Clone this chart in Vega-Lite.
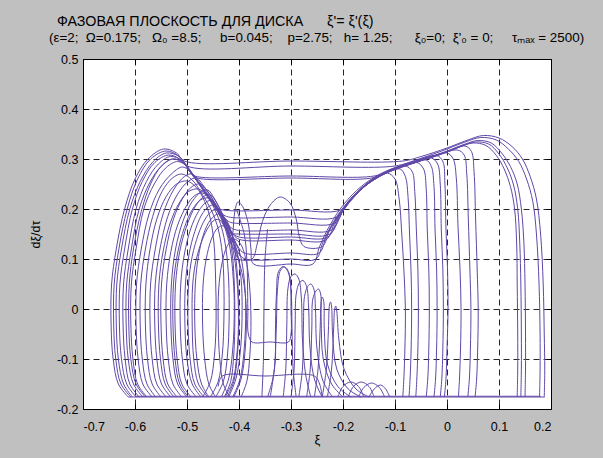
{
"$schema": "https://vega.github.io/schema/vega-lite/v6.json",
"width": 468, "height": 350,
"autosize": "none",
"padding": {"left": 83, "top": 59, "right": 52, "bottom": 49},
"background": "#c0c0c0",
"view": {"fill": "white", "stroke": "black", "strokeWidth": 1},
"title": {
 "text": "\u200b\u00a0\u00a0ФАЗОВАЯ ПЛОСКОСТЬ ДЛЯ ДИСКА\u00a0\u00a0\u00a0\u00a0\u00a0 ξ'= ξ'(ξ)",
 "subtitle": "(ε=2;\u00a0 Ω=0.175;\u00a0\u00a0 Ω₀ =8.5;\u00a0\u00a0\u00a0\u00a0 b=0.045;\u00a0\u00a0\u00a0 p=2.75;\u00a0\u00a0 h= 1.25;\u00a0\u00a0\u00a0\u00a0\u00a0 ξ₀=0;\u00a0 ξ'₀ = 0;\u00a0\u00a0\u00a0\u00a0 τₘₐₓ = 2500)",
 "anchor": "start", "frame": "group", "dx": -34, "dy": 20, "font": "Liberation Sans", "fontSize": 14.3, "fontWeight": "normal", "color": "#000000",
 "subtitleFont": "Liberation Sans", "subtitleFontSize": 13.4, "subtitleColor": "#000000", "subtitlePadding": 1,
 "baseline": "alphabetic", "offset": 18
},
"resolve": {"axis": {"x": "independent", "y": "independent"}},
"data": {"values": [
{"g":0,"x":-0.613,"y":-0.176},{"g":0,"x":0.188,"y":-0.176},
{"g":1,"x":-0.6,"y":-0.1745},{"g":1,"x":0.18,"y":-0.1745},
{"g":2,"x":-0.613,"y":-0.176},{"g":2,"x":-0.632,"y":-0.15},{"g":2,"x":-0.642,"y":-0.1},{"g":2,"x":-0.646,"y":-0.03},{"g":2,"x":-0.645,"y":0.05},{"g":2,"x":-0.636,"y":0.12},{"g":2,"x":-0.62,"y":0.2},{"g":2,"x":-0.6,"y":0.26},{"g":2,"x":-0.575,"y":0.3},{"g":2,"x":-0.545,"y":0.32},{"g":2,"x":-0.52,"y":0.312},{"g":2,"x":-0.505,"y":0.296},{"g":2,"x":-0.3,"y":0.296},{"g":2,"x":-0.085,"y":0.296},{"g":2,"x":-0.05,"y":0.305},{"g":2,"x":0.0,"y":0.322},{"g":2,"x":0.04,"y":0.338},{"g":2,"x":0.07,"y":0.347},{"g":2,"x":0.1,"y":0.342},{"g":2,"x":0.125,"y":0.325},{"g":2,"x":0.145,"y":0.3},{"g":2,"x":0.16,"y":0.265},{"g":2,"x":0.172,"y":0.22},{"g":2,"x":0.18,"y":0.15},{"g":2,"x":0.185,"y":0.05},{"g":2,"x":0.187,"y":-0.05},{"g":2,"x":0.188,"y":-0.12},{"g":2,"x":0.187,"y":-0.176},
{"g":3,"x":-0.605,"y":-0.176},{"g":3,"x":-0.622,"y":-0.15},{"g":3,"x":-0.632,"y":-0.1},{"g":3,"x":-0.636,"y":-0.03},{"g":3,"x":-0.635,"y":0.05},{"g":3,"x":-0.626,"y":0.12},{"g":3,"x":-0.61,"y":0.2},{"g":3,"x":-0.59,"y":0.255},{"g":3,"x":-0.565,"y":0.295},{"g":3,"x":-0.54,"y":0.312},{"g":3,"x":-0.515,"y":0.305},{"g":3,"x":-0.5,"y":0.286},{"g":3,"x":-0.3,"y":0.286},{"g":3,"x":-0.1,"y":0.286},{"g":3,"x":-0.06,"y":0.298},{"g":3,"x":-0.01,"y":0.316},{"g":3,"x":0.035,"y":0.334},{"g":3,"x":0.065,"y":0.343},{"g":3,"x":0.095,"y":0.338},{"g":3,"x":0.118,"y":0.32},{"g":3,"x":0.138,"y":0.295},{"g":3,"x":0.153,"y":0.26},{"g":3,"x":0.165,"y":0.215},{"g":3,"x":0.172,"y":0.15},{"g":3,"x":0.177,"y":0.05},{"g":3,"x":0.179,"y":-0.05},{"g":3,"x":0.179,"y":-0.12},{"g":3,"x":0.178,"y":-0.176},
{"g":4,"x":-0.592,"y":-0.176},{"g":4,"x":-0.61,"y":-0.15},{"g":4,"x":-0.619,"y":-0.1},{"g":4,"x":-0.623,"y":-0.03},{"g":4,"x":-0.622,"y":0.05},{"g":4,"x":-0.613,"y":0.12},{"g":4,"x":-0.598,"y":0.2},{"g":4,"x":-0.578,"y":0.255},{"g":4,"x":-0.555,"y":0.29},{"g":4,"x":-0.532,"y":0.305},{"g":4,"x":-0.51,"y":0.297},{"g":4,"x":-0.495,"y":0.275},{"g":4,"x":-0.485,"y":0.266},{"g":4,"x":-0.3,"y":0.266},{"g":4,"x":-0.14,"y":0.266},{"g":4,"x":-0.1,"y":0.28},{"g":4,"x":-0.05,"y":0.298},{"g":4,"x":0.0,"y":0.316},{"g":4,"x":0.035,"y":0.33},{"g":4,"x":0.06,"y":0.337},{"g":4,"x":0.085,"y":0.332},{"g":4,"x":0.105,"y":0.312},{"g":4,"x":0.122,"y":0.285},{"g":4,"x":0.135,"y":0.25},{"g":4,"x":0.143,"y":0.2},{"g":4,"x":0.148,"y":0.13},{"g":4,"x":0.15,"y":0.05},{"g":4,"x":0.151,"y":-0.05},{"g":4,"x":0.151,"y":-0.12},{"g":4,"x":0.15,"y":-0.176},
{"g":5,"x":-0.585,"y":-0.176},{"g":5,"x":-0.603,"y":-0.15},{"g":5,"x":-0.613,"y":-0.1},{"g":5,"x":-0.617,"y":-0.03},{"g":5,"x":-0.616,"y":0.05},{"g":5,"x":-0.607,"y":0.12},{"g":5,"x":-0.592,"y":0.2},{"g":5,"x":-0.572,"y":0.252},{"g":5,"x":-0.55,"y":0.285},{"g":5,"x":-0.527,"y":0.3},{"g":5,"x":-0.505,"y":0.292},{"g":5,"x":-0.49,"y":0.27},{"g":5,"x":-0.48,"y":0.262},{"g":5,"x":-0.3,"y":0.262},{"g":5,"x":-0.145,"y":0.262},{"g":5,"x":-0.105,"y":0.277},{"g":5,"x":-0.055,"y":0.295},{"g":5,"x":-0.005,"y":0.313},{"g":5,"x":0.03,"y":0.327},{"g":5,"x":0.055,"y":0.334},{"g":5,"x":0.08,"y":0.33},{"g":5,"x":0.1,"y":0.31},{"g":5,"x":0.116,"y":0.282},{"g":5,"x":0.128,"y":0.248},{"g":5,"x":0.136,"y":0.2},{"g":5,"x":0.14,"y":0.13},{"g":5,"x":0.142,"y":0.05},{"g":5,"x":0.143,"y":-0.05},{"g":5,"x":0.143,"y":-0.12},{"g":5,"x":0.142,"y":-0.176},
{"g":6,"x":-0.577,"y":-0.176},{"g":6,"x":-0.595,"y":-0.15},{"g":6,"x":-0.604,"y":-0.1},{"g":6,"x":-0.608,"y":-0.03},{"g":6,"x":-0.607,"y":0.05},{"g":6,"x":-0.598,"y":0.12},{"g":6,"x":-0.583,"y":0.2},{"g":6,"x":-0.563,"y":0.25},{"g":6,"x":-0.54,"y":0.283},{"g":6,"x":-0.518,"y":0.295},{"g":6,"x":-0.5,"y":0.285},{"g":6,"x":-0.48,"y":0.255},{"g":6,"x":-0.462,"y":0.226},{"g":6,"x":-0.445,"y":0.204},{"g":6,"x":-0.43,"y":0.198},{"g":6,"x":-0.3,"y":0.198},{"g":6,"x":-0.205,"y":0.198},{"g":6,"x":-0.18,"y":0.225},{"g":6,"x":-0.15,"y":0.252},{"g":6,"x":-0.11,"y":0.275},{"g":6,"x":-0.06,"y":0.293},{"g":6,"x":-0.01,"y":0.31},{"g":6,"x":0.025,"y":0.324},{"g":6,"x":0.05,"y":0.332},{"g":6,"x":0.075,"y":0.327},{"g":6,"x":0.095,"y":0.307},{"g":6,"x":0.11,"y":0.28},{"g":6,"x":0.122,"y":0.245},{"g":6,"x":0.13,"y":0.2},{"g":6,"x":0.134,"y":0.13},{"g":6,"x":0.135,"y":0.05},{"g":6,"x":0.136,"y":-0.05},{"g":6,"x":0.136,"y":-0.12},{"g":6,"x":0.135,"y":-0.176},
{"g":7,"x":-0.567,"y":-0.176},{"g":7,"x":-0.585,"y":-0.15},{"g":7,"x":-0.594,"y":-0.1},{"g":7,"x":-0.598,"y":-0.03},{"g":7,"x":-0.597,"y":0.05},{"g":7,"x":-0.588,"y":0.12},{"g":7,"x":-0.573,"y":0.19},{"g":7,"x":-0.553,"y":0.24},{"g":7,"x":-0.528,"y":0.272},{"g":7,"x":-0.508,"y":0.284},{"g":7,"x":-0.49,"y":0.27},{"g":7,"x":-0.47,"y":0.24},{"g":7,"x":-0.45,"y":0.21},{"g":7,"x":-0.432,"y":0.19},{"g":7,"x":-0.42,"y":0.184},{"g":7,"x":-0.3,"y":0.184},{"g":7,"x":-0.212,"y":0.184},{"g":7,"x":-0.19,"y":0.215},{"g":7,"x":-0.165,"y":0.24},{"g":7,"x":-0.135,"y":0.262},{"g":7,"x":-0.115,"y":0.272},{"g":7,"x":-0.1,"y":0.26},{"g":7,"x":-0.092,"y":0.22},{"g":7,"x":-0.087,"y":0.15},{"g":7,"x":-0.083,"y":0.08},{"g":7,"x":-0.08,"y":0.0},{"g":7,"x":-0.081,"y":-0.08},{"g":7,"x":-0.083,"y":-0.14},{"g":7,"x":-0.085,"y":-0.176},
{"g":8,"x":-0.54,"y":-0.176},{"g":8,"x":-0.558,"y":-0.15},{"g":8,"x":-0.567,"y":-0.1},{"g":8,"x":-0.571,"y":-0.03},{"g":8,"x":-0.57,"y":0.05},{"g":8,"x":-0.561,"y":0.12},{"g":8,"x":-0.546,"y":0.19},{"g":8,"x":-0.526,"y":0.238},{"g":8,"x":-0.505,"y":0.265},{"g":8,"x":-0.49,"y":0.27},{"g":8,"x":-0.475,"y":0.252},{"g":8,"x":-0.455,"y":0.222},{"g":8,"x":-0.438,"y":0.195},{"g":8,"x":-0.42,"y":0.175},{"g":8,"x":-0.41,"y":0.172},{"g":8,"x":-0.3,"y":0.172},{"g":8,"x":-0.216,"y":0.172},{"g":8,"x":-0.195,"y":0.207},{"g":8,"x":-0.17,"y":0.236},{"g":8,"x":-0.14,"y":0.26},{"g":8,"x":-0.11,"y":0.275},{"g":8,"x":-0.09,"y":0.28},{"g":8,"x":-0.08,"y":0.265},{"g":8,"x":-0.075,"y":0.225},{"g":8,"x":-0.072,"y":0.15},{"g":8,"x":-0.069,"y":0.07},{"g":8,"x":-0.068,"y":0.0},{"g":8,"x":-0.069,"y":-0.08},{"g":8,"x":-0.071,"y":-0.14},{"g":8,"x":-0.073,"y":-0.176},
{"g":9,"x":-0.531,"y":-0.176},{"g":9,"x":-0.549,"y":-0.15},{"g":9,"x":-0.558,"y":-0.1},{"g":9,"x":-0.562,"y":-0.03},{"g":9,"x":-0.561,"y":0.05},{"g":9,"x":-0.552,"y":0.12},{"g":9,"x":-0.537,"y":0.185},{"g":9,"x":-0.518,"y":0.23},{"g":9,"x":-0.498,"y":0.255},{"g":9,"x":-0.482,"y":0.262},{"g":9,"x":-0.468,"y":0.246},{"g":9,"x":-0.45,"y":0.218},{"g":9,"x":-0.432,"y":0.188},{"g":9,"x":-0.418,"y":0.165},{"g":9,"x":-0.405,"y":0.158},{"g":9,"x":-0.3,"y":0.158},{"g":9,"x":-0.222,"y":0.158},{"g":9,"x":-0.2,"y":0.196},{"g":9,"x":-0.175,"y":0.228},{"g":9,"x":-0.145,"y":0.256},{"g":9,"x":-0.11,"y":0.276},{"g":9,"x":-0.08,"y":0.286},{"g":9,"x":-0.067,"y":0.275},{"g":9,"x":-0.062,"y":0.235},{"g":9,"x":-0.059,"y":0.16},{"g":9,"x":-0.056,"y":0.08},{"g":9,"x":-0.055,"y":0.0},{"g":9,"x":-0.056,"y":-0.08},{"g":9,"x":-0.058,"y":-0.14},{"g":9,"x":-0.06,"y":-0.176},
{"g":10,"x":-0.519,"y":-0.176},{"g":10,"x":-0.537,"y":-0.15},{"g":10,"x":-0.546,"y":-0.1},{"g":10,"x":-0.55,"y":-0.03},{"g":10,"x":-0.549,"y":0.05},{"g":10,"x":-0.54,"y":0.12},{"g":10,"x":-0.526,"y":0.18},{"g":10,"x":-0.508,"y":0.222},{"g":10,"x":-0.49,"y":0.245},{"g":10,"x":-0.475,"y":0.25},{"g":10,"x":-0.46,"y":0.235},{"g":10,"x":-0.443,"y":0.205},{"g":10,"x":-0.427,"y":0.175},{"g":10,"x":-0.413,"y":0.152},{"g":10,"x":-0.4,"y":0.144},{"g":10,"x":-0.3,"y":0.144},{"g":10,"x":-0.229,"y":0.144},{"g":10,"x":-0.21,"y":0.182},{"g":10,"x":-0.185,"y":0.218},{"g":10,"x":-0.155,"y":0.25},{"g":10,"x":-0.12,"y":0.272},{"g":10,"x":-0.085,"y":0.286},{"g":10,"x":-0.058,"y":0.293},{"g":10,"x":-0.045,"y":0.28},{"g":10,"x":-0.04,"y":0.24},{"g":10,"x":-0.038,"y":0.16},{"g":10,"x":-0.035,"y":0.08},{"g":10,"x":-0.034,"y":0.0},{"g":10,"x":-0.035,"y":-0.08},{"g":10,"x":-0.037,"y":-0.14},{"g":10,"x":-0.04,"y":-0.176},
{"g":11,"x":-0.5,"y":-0.176},{"g":11,"x":-0.518,"y":-0.15},{"g":11,"x":-0.527,"y":-0.1},{"g":11,"x":-0.531,"y":-0.03},{"g":11,"x":-0.53,"y":0.05},{"g":11,"x":-0.522,"y":0.12},{"g":11,"x":-0.508,"y":0.175},{"g":11,"x":-0.49,"y":0.215},{"g":11,"x":-0.472,"y":0.235},{"g":11,"x":-0.46,"y":0.238},{"g":11,"x":-0.448,"y":0.222},{"g":11,"x":-0.434,"y":0.195},{"g":11,"x":-0.42,"y":0.165},{"g":11,"x":-0.408,"y":0.145},{"g":11,"x":-0.395,"y":0.138},{"g":11,"x":-0.3,"y":0.138},{"g":11,"x":-0.233,"y":0.138},{"g":11,"x":-0.215,"y":0.175},{"g":11,"x":-0.19,"y":0.212},{"g":11,"x":-0.16,"y":0.246},{"g":11,"x":-0.125,"y":0.27},{"g":11,"x":-0.09,"y":0.284},{"g":11,"x":-0.06,"y":0.293},{"g":11,"x":-0.04,"y":0.298},{"g":11,"x":-0.03,"y":0.285},{"g":11,"x":-0.025,"y":0.245},{"g":11,"x":-0.023,"y":0.16},{"g":11,"x":-0.02,"y":0.08},{"g":11,"x":-0.019,"y":0.0},{"g":11,"x":-0.02,"y":-0.08},{"g":11,"x":-0.022,"y":-0.14},{"g":11,"x":-0.025,"y":-0.176},
{"g":12,"x":-0.492,"y":-0.176},{"g":12,"x":-0.51,"y":-0.15},{"g":12,"x":-0.519,"y":-0.1},{"g":12,"x":-0.523,"y":-0.03},{"g":12,"x":-0.522,"y":0.05},{"g":12,"x":-0.514,"y":0.115},{"g":12,"x":-0.5,"y":0.168},{"g":12,"x":-0.484,"y":0.205},{"g":12,"x":-0.468,"y":0.225},{"g":12,"x":-0.455,"y":0.228},{"g":12,"x":-0.443,"y":0.212},{"g":12,"x":-0.43,"y":0.185},{"g":12,"x":-0.415,"y":0.152},{"g":12,"x":-0.402,"y":0.125},{"g":12,"x":-0.39,"y":0.112},{"g":12,"x":-0.3,"y":0.112},{"g":12,"x":-0.246,"y":0.112},{"g":12,"x":-0.232,"y":0.145},{"g":12,"x":-0.21,"y":0.185},{"g":12,"x":-0.18,"y":0.225},{"g":12,"x":-0.145,"y":0.258},{"g":12,"x":-0.11,"y":0.278},{"g":12,"x":-0.07,"y":0.292},{"g":12,"x":-0.03,"y":0.302},{"g":12,"x":-0.018,"y":0.29},{"g":12,"x":-0.013,"y":0.25},{"g":12,"x":-0.011,"y":0.16},{"g":12,"x":-0.008,"y":0.08},{"g":12,"x":-0.007,"y":0.0},{"g":12,"x":-0.008,"y":-0.08},{"g":12,"x":-0.01,"y":-0.14},{"g":12,"x":-0.013,"y":-0.176},
{"g":13,"x":-0.482,"y":-0.176},{"g":13,"x":-0.5,"y":-0.15},{"g":13,"x":-0.509,"y":-0.1},{"g":13,"x":-0.513,"y":-0.03},{"g":13,"x":-0.512,"y":0.05},{"g":13,"x":-0.505,"y":0.11},{"g":13,"x":-0.493,"y":0.16},{"g":13,"x":-0.478,"y":0.195},{"g":13,"x":-0.463,"y":0.214},{"g":13,"x":-0.452,"y":0.217},{"g":13,"x":-0.44,"y":0.2},{"g":13,"x":-0.427,"y":0.172},{"g":13,"x":-0.413,"y":0.138},{"g":13,"x":-0.4,"y":0.11},{"g":13,"x":-0.388,"y":0.1},{"g":13,"x":-0.3,"y":0.1},{"g":13,"x":-0.252,"y":0.1},{"g":13,"x":-0.238,"y":0.135},{"g":13,"x":-0.218,"y":0.175},{"g":13,"x":-0.19,"y":0.215},{"g":13,"x":-0.155,"y":0.25},{"g":13,"x":-0.115,"y":0.275},{"g":13,"x":-0.07,"y":0.292},{"g":13,"x":-0.02,"y":0.307},{"g":13,"x":-0.008,"y":0.295},{"g":13,"x":-0.004,"y":0.25},{"g":13,"x":-0.002,"y":0.16},{"g":13,"x":0.001,"y":0.08},{"g":13,"x":0.002,"y":0.0},{"g":13,"x":0.0,"y":-0.08},{"g":13,"x":-0.002,"y":-0.14},{"g":13,"x":-0.005,"y":-0.176},
{"g":14,"x":-0.473,"y":-0.176},{"g":14,"x":-0.49,"y":-0.15},{"g":14,"x":-0.5,"y":-0.1},{"g":14,"x":-0.504,"y":-0.03},{"g":14,"x":-0.503,"y":0.05},{"g":14,"x":-0.496,"y":0.11},{"g":14,"x":-0.485,"y":0.155},{"g":14,"x":-0.472,"y":0.188},{"g":14,"x":-0.458,"y":0.205},{"g":14,"x":-0.448,"y":0.207},{"g":14,"x":-0.437,"y":0.19},{"g":14,"x":-0.425,"y":0.16},{"g":14,"x":-0.415,"y":0.13},{"g":14,"x":-0.412,"y":0.15},{"g":14,"x":-0.408,"y":0.195},{"g":14,"x":-0.402,"y":0.214},{"g":14,"x":-0.393,"y":0.205},{"g":14,"x":-0.382,"y":0.17},{"g":14,"x":-0.377,"y":0.12},{"g":14,"x":-0.372,"y":0.09},{"g":14,"x":-0.3,"y":0.09},{"g":14,"x":-0.258,"y":0.09},{"g":14,"x":-0.245,"y":0.125},{"g":14,"x":-0.225,"y":0.168},{"g":14,"x":-0.198,"y":0.21},{"g":14,"x":-0.165,"y":0.245},{"g":14,"x":-0.125,"y":0.272},{"g":14,"x":-0.08,"y":0.29},{"g":14,"x":-0.03,"y":0.305},{"g":14,"x":0.0,"y":0.312},{"g":14,"x":0.012,"y":0.3},{"g":14,"x":0.018,"y":0.26},{"g":14,"x":0.021,"y":0.17},{"g":14,"x":0.025,"y":0.08},{"g":14,"x":0.027,"y":0.0},{"g":14,"x":0.026,"y":-0.08},{"g":14,"x":0.024,"y":-0.14},{"g":14,"x":0.022,"y":-0.176},
{"g":15,"x":-0.467,"y":-0.176},{"g":15,"x":-0.485,"y":-0.15},{"g":15,"x":-0.494,"y":-0.1},{"g":15,"x":-0.498,"y":-0.03},{"g":15,"x":-0.497,"y":0.05},{"g":15,"x":-0.49,"y":0.105},{"g":15,"x":-0.478,"y":0.15},{"g":15,"x":-0.465,"y":0.18},{"g":15,"x":-0.452,"y":0.196},{"g":15,"x":-0.442,"y":0.198},{"g":15,"x":-0.432,"y":0.18},{"g":15,"x":-0.42,"y":0.15},{"g":15,"x":-0.41,"y":0.12},{"g":15,"x":-0.4,"y":0.1},{"g":15,"x":-0.375,"y":0.1},{"g":15,"x":-0.365,"y":0.13},{"g":15,"x":-0.355,"y":0.175},{"g":15,"x":-0.34,"y":0.208},{"g":15,"x":-0.321,"y":0.224},{"g":15,"x":-0.302,"y":0.212},{"g":15,"x":-0.29,"y":0.18},{"g":15,"x":-0.284,"y":0.145},{"g":15,"x":-0.275,"y":0.125},{"g":15,"x":-0.24,"y":0.125},{"g":15,"x":-0.225,"y":0.16},{"g":15,"x":-0.2,"y":0.2},{"g":15,"x":-0.17,"y":0.235},{"g":15,"x":-0.13,"y":0.265},{"g":15,"x":-0.08,"y":0.288},{"g":15,"x":-0.03,"y":0.303},{"g":15,"x":0.02,"y":0.318},{"g":15,"x":0.033,"y":0.308},{"g":15,"x":0.038,"y":0.27},{"g":15,"x":0.041,"y":0.18},{"g":15,"x":0.044,"y":0.08},{"g":15,"x":0.046,"y":0.0},{"g":15,"x":0.045,"y":-0.08},{"g":15,"x":0.043,"y":-0.14},{"g":15,"x":0.04,"y":-0.176},
{"g":16,"x":-0.46,"y":-0.176},{"g":16,"x":-0.478,"y":-0.15},{"g":16,"x":-0.487,"y":-0.1},{"g":16,"x":-0.49,"y":-0.03},{"g":16,"x":-0.489,"y":0.05},{"g":16,"x":-0.482,"y":0.1},{"g":16,"x":-0.47,"y":0.14},{"g":16,"x":-0.458,"y":0.165},{"g":16,"x":-0.447,"y":0.178},{"g":16,"x":-0.437,"y":0.178},{"g":16,"x":-0.428,"y":0.165},{"g":16,"x":-0.418,"y":0.152},{"g":16,"x":-0.4,"y":0.15},{"g":16,"x":-0.3,"y":0.15},{"g":16,"x":-0.225,"y":0.15},{"g":16,"x":-0.205,"y":0.19},{"g":16,"x":-0.18,"y":0.225},{"g":16,"x":-0.145,"y":0.257},{"g":16,"x":-0.1,"y":0.282},{"g":16,"x":-0.05,"y":0.298},{"g":16,"x":0.0,"y":0.314},{"g":16,"x":0.035,"y":0.326},{"g":16,"x":0.047,"y":0.315},{"g":16,"x":0.052,"y":0.275},{"g":16,"x":0.055,"y":0.18},{"g":16,"x":0.058,"y":0.08},{"g":16,"x":0.06,"y":0.0},{"g":16,"x":0.059,"y":-0.08},{"g":16,"x":0.057,"y":-0.14},{"g":16,"x":0.054,"y":-0.176},
{"g":17,"x":-0.608,"y":-0.176},{"g":17,"x":-0.627,"y":-0.15},{"g":17,"x":-0.637,"y":-0.1},{"g":17,"x":-0.641,"y":-0.03},{"g":17,"x":-0.64,"y":0.05},{"g":17,"x":-0.631,"y":0.12},{"g":17,"x":-0.615,"y":0.2},{"g":17,"x":-0.595,"y":0.26},{"g":17,"x":-0.57,"y":0.3},{"g":17,"x":-0.54,"y":0.316},{"g":17,"x":-0.515,"y":0.305},{"g":17,"x":-0.49,"y":0.27},{"g":17,"x":-0.465,"y":0.235},{"g":17,"x":-0.44,"y":0.2},{"g":17,"x":-0.42,"y":0.165},{"g":17,"x":-0.405,"y":0.12},{"g":17,"x":-0.396,"y":0.06},{"g":17,"x":-0.394,"y":0.0},{"g":17,"x":-0.397,"y":-0.08},{"g":17,"x":-0.406,"y":-0.14},{"g":17,"x":-0.42,"y":-0.176},
{"g":18,"x":-0.598,"y":-0.176},{"g":18,"x":-0.616,"y":-0.15},{"g":18,"x":-0.626,"y":-0.1},{"g":18,"x":-0.63,"y":-0.03},{"g":18,"x":-0.629,"y":0.05},{"g":18,"x":-0.62,"y":0.12},{"g":18,"x":-0.605,"y":0.2},{"g":18,"x":-0.586,"y":0.255},{"g":18,"x":-0.562,"y":0.293},{"g":18,"x":-0.535,"y":0.308},{"g":18,"x":-0.512,"y":0.298},{"g":18,"x":-0.49,"y":0.268},{"g":18,"x":-0.466,"y":0.235},{"g":18,"x":-0.444,"y":0.2},{"g":18,"x":-0.428,"y":0.165},{"g":18,"x":-0.417,"y":0.12},{"g":18,"x":-0.411,"y":0.06},{"g":18,"x":-0.409,"y":0.0},{"g":18,"x":-0.412,"y":-0.08},{"g":18,"x":-0.42,"y":-0.14},{"g":18,"x":-0.434,"y":-0.176},
{"g":19,"x":-0.58,"y":-0.176},{"g":19,"x":-0.598,"y":-0.15},{"g":19,"x":-0.608,"y":-0.1},{"g":19,"x":-0.612,"y":-0.03},{"g":19,"x":-0.611,"y":0.05},{"g":19,"x":-0.603,"y":0.12},{"g":19,"x":-0.588,"y":0.195},{"g":19,"x":-0.57,"y":0.25},{"g":19,"x":-0.55,"y":0.285},{"g":19,"x":-0.528,"y":0.3},{"g":19,"x":-0.505,"y":0.29},{"g":19,"x":-0.482,"y":0.258},{"g":19,"x":-0.458,"y":0.222},{"g":19,"x":-0.435,"y":0.185},{"g":19,"x":-0.415,"y":0.15},{"g":19,"x":-0.398,"y":0.11},{"g":19,"x":-0.39,"y":0.06},{"g":19,"x":-0.387,"y":0.0},{"g":19,"x":-0.39,"y":-0.08},{"g":19,"x":-0.398,"y":-0.14},{"g":19,"x":-0.412,"y":-0.176},
{"g":20,"x":-0.56,"y":-0.176},{"g":20,"x":-0.577,"y":-0.15},{"g":20,"x":-0.586,"y":-0.1},{"g":20,"x":-0.59,"y":-0.03},{"g":20,"x":-0.589,"y":0.05},{"g":20,"x":-0.58,"y":0.12},{"g":20,"x":-0.566,"y":0.185},{"g":20,"x":-0.548,"y":0.235},{"g":20,"x":-0.528,"y":0.262},{"g":20,"x":-0.51,"y":0.27},{"g":20,"x":-0.49,"y":0.258},{"g":20,"x":-0.47,"y":0.228},{"g":20,"x":-0.452,"y":0.195},{"g":20,"x":-0.44,"y":0.16},{"g":20,"x":-0.432,"y":0.11},{"g":20,"x":-0.429,"y":0.05},{"g":20,"x":-0.429,"y":-0.02},{"g":20,"x":-0.432,"y":-0.09},{"g":20,"x":-0.44,"y":-0.145},{"g":20,"x":-0.455,"y":-0.176},
{"g":21,"x":-0.55,"y":-0.176},{"g":21,"x":-0.567,"y":-0.15},{"g":21,"x":-0.576,"y":-0.1},{"g":21,"x":-0.58,"y":-0.03},{"g":21,"x":-0.579,"y":0.05},{"g":21,"x":-0.571,"y":0.12},{"g":21,"x":-0.558,"y":0.18},{"g":21,"x":-0.54,"y":0.225},{"g":21,"x":-0.52,"y":0.25},{"g":21,"x":-0.5,"y":0.256},{"g":21,"x":-0.482,"y":0.243},{"g":21,"x":-0.466,"y":0.215},{"g":21,"x":-0.455,"y":0.18},{"g":21,"x":-0.448,"y":0.13},{"g":21,"x":-0.445,"y":0.06},{"g":21,"x":-0.444,"y":-0.02},{"g":21,"x":-0.447,"y":-0.09},{"g":21,"x":-0.455,"y":-0.145},{"g":21,"x":-0.47,"y":-0.176},
{"g":22,"x":-0.525,"y":-0.176},{"g":22,"x":-0.542,"y":-0.15},{"g":22,"x":-0.551,"y":-0.1},{"g":22,"x":-0.555,"y":-0.03},{"g":22,"x":-0.554,"y":0.05},{"g":22,"x":-0.546,"y":0.115},{"g":22,"x":-0.533,"y":0.17},{"g":22,"x":-0.515,"y":0.212},{"g":22,"x":-0.497,"y":0.235},{"g":22,"x":-0.478,"y":0.24},{"g":22,"x":-0.462,"y":0.227},{"g":22,"x":-0.447,"y":0.2},{"g":22,"x":-0.434,"y":0.165},{"g":22,"x":-0.425,"y":0.12},{"g":22,"x":-0.42,"y":0.06},{"g":22,"x":-0.419,"y":-0.02},{"g":22,"x":-0.422,"y":-0.09},{"g":22,"x":-0.43,"y":-0.145},{"g":22,"x":-0.445,"y":-0.176},
{"g":23,"x":-0.51,"y":-0.176},{"g":23,"x":-0.527,"y":-0.15},{"g":23,"x":-0.536,"y":-0.1},{"g":23,"x":-0.54,"y":-0.03},{"g":23,"x":-0.539,"y":0.05},{"g":23,"x":-0.531,"y":0.115},{"g":23,"x":-0.518,"y":0.168},{"g":23,"x":-0.5,"y":0.208},{"g":23,"x":-0.485,"y":0.227},{"g":23,"x":-0.47,"y":0.232},{"g":23,"x":-0.455,"y":0.22},{"g":23,"x":-0.44,"y":0.195},{"g":23,"x":-0.425,"y":0.16},{"g":23,"x":-0.412,"y":0.12},{"g":23,"x":-0.404,"y":0.06},{"g":23,"x":-0.401,"y":-0.02},{"g":23,"x":-0.404,"y":-0.09},{"g":23,"x":-0.412,"y":-0.145},{"g":23,"x":-0.427,"y":-0.176},
{"g":24,"x":-0.497,"y":-0.176},{"g":24,"x":-0.514,"y":-0.15},{"g":24,"x":-0.523,"y":-0.1},{"g":24,"x":-0.527,"y":-0.03},{"g":24,"x":-0.526,"y":0.05},{"g":24,"x":-0.518,"y":0.112},{"g":24,"x":-0.505,"y":0.163},{"g":24,"x":-0.489,"y":0.2},{"g":24,"x":-0.474,"y":0.218},{"g":24,"x":-0.46,"y":0.222},{"g":24,"x":-0.446,"y":0.21},{"g":24,"x":-0.432,"y":0.185},{"g":24,"x":-0.418,"y":0.15},{"g":24,"x":-0.404,"y":0.11},{"g":24,"x":-0.392,"y":0.06},{"g":24,"x":-0.386,"y":0.0},{"g":24,"x":-0.388,"y":-0.08},{"g":24,"x":-0.396,"y":-0.14},{"g":24,"x":-0.41,"y":-0.176},
{"g":25,"x":-0.458,"y":-0.176},{"g":25,"x":-0.472,"y":-0.15},{"g":25,"x":-0.481,"y":-0.1},{"g":25,"x":-0.485,"y":-0.03},{"g":25,"x":-0.484,"y":0.05},{"g":25,"x":-0.478,"y":0.105},{"g":25,"x":-0.468,"y":0.15},{"g":25,"x":-0.455,"y":0.178},{"g":25,"x":-0.44,"y":0.19},{"g":25,"x":-0.427,"y":0.182},{"g":25,"x":-0.415,"y":0.155},{"g":25,"x":-0.407,"y":0.11},{"g":25,"x":-0.402,"y":0.05},{"g":25,"x":-0.4,"y":-0.02},{"g":25,"x":-0.403,"y":-0.09},{"g":25,"x":-0.41,"y":-0.145},{"g":25,"x":-0.423,"y":-0.176},
{"g":26,"x":-0.445,"y":-0.176},{"g":26,"x":-0.458,"y":-0.15},{"g":26,"x":-0.466,"y":-0.1},{"g":26,"x":-0.47,"y":-0.03},{"g":26,"x":-0.469,"y":0.05},{"g":26,"x":-0.463,"y":0.1},{"g":26,"x":-0.453,"y":0.14},{"g":26,"x":-0.441,"y":0.162},{"g":26,"x":-0.43,"y":0.166},{"g":26,"x":-0.42,"y":0.15},{"g":26,"x":-0.413,"y":0.11},{"g":26,"x":-0.409,"y":0.05},{"g":26,"x":-0.408,"y":-0.02},{"g":26,"x":-0.41,"y":-0.09},{"g":26,"x":-0.416,"y":-0.145},{"g":26,"x":-0.428,"y":-0.176},
{"g":27,"x":-0.418,"y":-0.176},{"g":27,"x":-0.43,"y":-0.15},{"g":27,"x":-0.437,"y":-0.1},{"g":27,"x":-0.44,"y":-0.03},{"g":27,"x":-0.439,"y":0.04},{"g":27,"x":-0.433,"y":0.09},{"g":27,"x":-0.423,"y":0.125},{"g":27,"x":-0.41,"y":0.14},{"g":27,"x":-0.397,"y":0.13},{"g":27,"x":-0.387,"y":0.1},{"g":27,"x":-0.38,"y":0.05},{"g":27,"x":-0.377,"y":-0.02},{"g":27,"x":-0.379,"y":-0.09},{"g":27,"x":-0.385,"y":-0.145},{"g":27,"x":-0.396,"y":-0.176},
{"g":28,"x":-0.405,"y":0.2},{"g":28,"x":-0.39,"y":0.15},{"g":28,"x":-0.385,"y":0.1},{"g":28,"x":-0.383,"y":0.0},{"g":28,"x":-0.382,"y":-0.05},{"g":28,"x":-0.375,"y":-0.066},{"g":28,"x":-0.34,"y":-0.066},{"g":28,"x":-0.305,"y":-0.066},{"g":28,"x":-0.3,"y":-0.05},{"g":28,"x":-0.3,"y":0.0},{"g":28,"x":-0.301,"y":0.05},{"g":28,"x":-0.306,"y":0.075},{"g":28,"x":-0.315,"y":0.085},{"g":28,"x":-0.324,"y":0.075},{"g":28,"x":-0.328,"y":0.03},{"g":28,"x":-0.33,"y":-0.05},{"g":28,"x":-0.33,"y":-0.1},{"g":28,"x":-0.335,"y":-0.14},{"g":28,"x":-0.345,"y":-0.176},
{"g":29,"x":-0.44,"y":-0.155},{"g":29,"x":-0.432,"y":-0.134},{"g":29,"x":-0.35,"y":-0.134},{"g":29,"x":-0.255,"y":-0.134},{"g":29,"x":-0.245,"y":-0.15},{"g":29,"x":-0.24,"y":-0.176},
{"g":30,"x":-0.345,"y":0.16},{"g":30,"x":-0.35,"y":0.1},{"g":30,"x":-0.352,"y":0.0},{"g":30,"x":-0.353,"y":-0.1},{"g":30,"x":-0.356,"y":-0.176},
{"g":31,"x":-0.34,"y":-0.176},{"g":31,"x":-0.332,"y":-0.12},{"g":31,"x":-0.328,"y":-0.03},{"g":31,"x":-0.326,"y":0.04},{"g":31,"x":-0.32,"y":0.078},{"g":31,"x":-0.312,"y":0.084},{"g":31,"x":-0.305,"y":0.075},{"g":31,"x":-0.3,"y":0.04},{"g":31,"x":-0.298,"y":-0.04},{"g":31,"x":-0.296,"y":-0.12},{"g":31,"x":-0.29,"y":-0.176},
{"g":32,"x":-0.315,"y":-0.176},{"g":32,"x":-0.31,"y":-0.12},{"g":32,"x":-0.308,"y":-0.03},{"g":32,"x":-0.306,"y":0.04},{"g":32,"x":-0.3,"y":0.065},{"g":32,"x":-0.292,"y":0.07},{"g":32,"x":-0.285,"y":0.06},{"g":32,"x":-0.28,"y":0.02},{"g":32,"x":-0.278,"y":-0.06},{"g":32,"x":-0.272,"y":-0.13},{"g":32,"x":-0.262,"y":-0.176},
{"g":33,"x":-0.3,"y":-0.176},{"g":33,"x":-0.294,"y":-0.12},{"g":33,"x":-0.292,"y":-0.03},{"g":33,"x":-0.29,"y":0.03},{"g":33,"x":-0.284,"y":0.052},{"g":33,"x":-0.277,"y":0.057},{"g":33,"x":-0.27,"y":0.045},{"g":33,"x":-0.266,"y":0.0},{"g":33,"x":-0.264,"y":-0.07},{"g":33,"x":-0.255,"y":-0.14},{"g":33,"x":-0.24,"y":-0.176},
{"g":34,"x":-0.285,"y":-0.176},{"g":34,"x":-0.278,"y":-0.12},{"g":34,"x":-0.276,"y":-0.03},{"g":34,"x":-0.274,"y":0.025},{"g":34,"x":-0.268,"y":0.045},{"g":34,"x":-0.262,"y":0.05},{"g":34,"x":-0.256,"y":0.04},{"g":34,"x":-0.253,"y":0.0},{"g":34,"x":-0.25,"y":-0.08},{"g":34,"x":-0.238,"y":-0.145},{"g":34,"x":-0.22,"y":-0.176},
{"g":35,"x":-0.27,"y":-0.176},{"g":35,"x":-0.263,"y":-0.12},{"g":35,"x":-0.26,"y":-0.04},{"g":35,"x":-0.258,"y":0.02},{"g":35,"x":-0.252,"y":0.036},{"g":35,"x":-0.247,"y":0.04},{"g":35,"x":-0.243,"y":0.03},{"g":35,"x":-0.242,"y":-0.02},{"g":35,"x":-0.238,"y":-0.1},{"g":35,"x":-0.222,"y":-0.15},{"g":35,"x":-0.2,"y":-0.176},
{"g":36,"x":-0.255,"y":-0.176},{"g":36,"x":-0.248,"y":-0.12},{"g":36,"x":-0.244,"y":-0.04},{"g":36,"x":-0.242,"y":0.015},{"g":36,"x":-0.24,"y":0.024},{"g":36,"x":-0.237,"y":0.015},{"g":36,"x":-0.236,"y":-0.04},{"g":36,"x":-0.23,"y":-0.11},{"g":36,"x":-0.21,"y":-0.155},{"g":36,"x":-0.185,"y":-0.176},
{"g":37,"x":-0.24,"y":-0.176},{"g":37,"x":-0.232,"y":-0.12},{"g":37,"x":-0.228,"y":-0.04},{"g":37,"x":-0.226,"y":0.008},{"g":37,"x":-0.224,"y":0.014},{"g":37,"x":-0.222,"y":0.006},{"g":37,"x":-0.22,"y":-0.05},{"g":37,"x":-0.212,"y":-0.12},{"g":37,"x":-0.19,"y":-0.16},{"g":37,"x":-0.165,"y":-0.176},
{"g":38,"x":-0.23,"y":-0.176},{"g":38,"x":-0.222,"y":-0.12},{"g":38,"x":-0.218,"y":-0.04},{"g":38,"x":-0.216,"y":0.0},{"g":38,"x":-0.214,"y":0.006},{"g":38,"x":-0.212,"y":-0.004},{"g":38,"x":-0.208,"y":-0.06},{"g":38,"x":-0.198,"y":-0.12},{"g":38,"x":-0.175,"y":-0.16},{"g":38,"x":-0.15,"y":-0.176},
{"g":39,"x":-0.21,"y":-0.176},{"g":39,"x":-0.2,"y":-0.155},{"g":39,"x":-0.185,"y":-0.146},{"g":39,"x":-0.17,"y":-0.155},{"g":39,"x":-0.16,"y":-0.176},
{"g":40,"x":-0.19,"y":-0.176},{"g":40,"x":-0.18,"y":-0.155},{"g":40,"x":-0.165,"y":-0.146},{"g":40,"x":-0.15,"y":-0.155},{"g":40,"x":-0.14,"y":-0.176},
{"g":41,"x":-0.17,"y":-0.176},{"g":41,"x":-0.16,"y":-0.157},{"g":41,"x":-0.145,"y":-0.148},{"g":41,"x":-0.13,"y":-0.157},{"g":41,"x":-0.12,"y":-0.176},
{"g":42,"x":-0.15,"y":-0.176},{"g":42,"x":-0.14,"y":-0.16},{"g":42,"x":-0.128,"y":-0.152},{"g":42,"x":-0.118,"y":-0.16},{"g":42,"x":-0.11,"y":-0.176}
]},
"layer": [
 {
  "mark": {"type": "line", "interpolate": "catmull-rom", "stroke": "#6048a8", "strokeWidth": 1, "clip": true},
  "encoding": {
   "x": {"field": "x", "type": "quantitative",
     "scale": {"domain": [-0.7, 0.2], "nice": false, "zero": false},
     "axis": {"values": [-0.7,-0.6,-0.5,-0.4,-0.3,-0.2,-0.1,0,0.1,0.2], "labelExpr": "datum.value == 0 ? '0' : (datum.value < 0 ? '-' + format(-datum.value, '.1f') : format(datum.value, '.1f'))",
       "grid": true, "gridColor": "#000000", "gridDash": [6, 4], "gridOpacity": 0.85, "gridWidth": 1,
       "domain": false, "tickSize": -5, "tickColor": "#000000", "labelPadding": 16,
       "labelFont": "Liberation Sans", "labelFontSize": 12.5, "labelColor": "#000000",
       "title": "ξ", "titleFont": "Liberation Sans", "titleFontSize": 13, "titleFontWeight": "normal", "titleColor": "#000000", "titlePadding": 1}},
   "y": {"field": "y", "type": "quantitative",
     "scale": {"domain": [-0.2, 0.5], "nice": false, "zero": false},
     "axis": {"values": [-0.2,-0.1,0,0.1,0.2,0.3,0.4,0.5], "labelExpr": "datum.value == 0 ? '0' : (datum.value < 0 ? '-' + format(-datum.value, '.1f') : format(datum.value, '.1f'))",
       "grid": true, "gridColor": "#000000", "gridDash": [6, 4], "gridOpacity": 0.85, "gridWidth": 1,
       "domain": false, "tickSize": -5, "tickColor": "#000000", "labelPadding": 10,
       "labelFont": "Liberation Sans", "labelFontSize": 12.5, "labelColor": "#000000",
       "title": "dξ/dτ", "titleFont": "Liberation Sans", "titleFontSize": 12.5, "titleFontWeight": "normal", "titleColor": "#000000", "titlePadding": 14}},
   "detail": {"field": "g", "type": "nominal"},
   "order": {"value": null}
  }
 },
 {
  "mark": {"type": "point", "opacity": 0},
  "encoding": {
   "x": {"field": "x", "type": "quantitative", "axis": {"orient": "top", "values": [-0.7,-0.6,-0.5,-0.4,-0.3,-0.2,-0.1,0,0.1,0.2], "labels": false, "grid": false, "domain": false, "tickSize": -5, "tickColor": "#000000", "title": null}},
   "y": {"field": "y", "type": "quantitative", "axis": {"orient": "right", "values": [-0.2,-0.1,0,0.1,0.2,0.3,0.4,0.5], "labels": false, "grid": false, "domain": false, "tickSize": -5, "tickColor": "#000000", "title": null}}
  }
 }
]
}
